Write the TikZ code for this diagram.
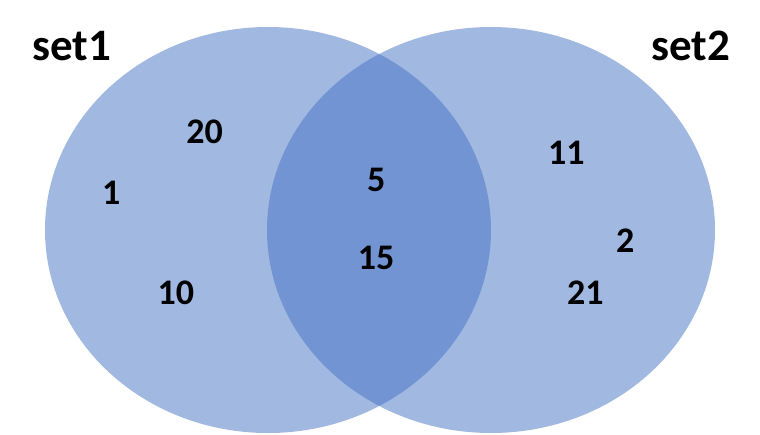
\documentclass[tikz,border=0pt]{standalone}
\usepackage{fontspec}
\setmainfont{Carlito}
\begin{document}
\begin{tikzpicture}[x=1pt,y=-1pt,
  setfill/.style={fill={rgb,255:red,68;green,114;blue,196},fill opacity=0.5,draw=none},
  num/.style={anchor=base,inner sep=0pt,font=\fontsize{36}{40}\selectfont\bfseries},
  setlabel/.style={anchor=base,inner sep=0pt,font=\fontsize{45}{50}\selectfont\bfseries}]
\useasboundingbox (0,0) rectangle (760,434);
\fill[white] (0,0) rectangle (760,434);
\path[setfill] (268,230) ellipse [x radius=223, y radius=203];
\path[setfill] (491,230) ellipse [x radius=224, y radius=203];
\node[setlabel] (s1) at (71.5,60) {set1};
\node[setlabel] (s2) at (691,60) {set2};
\node[num] (n20) at (204.7,143) {20};
\node[num] (n1) at (111.3,204) {1};
\node[num] (n10) at (175.8,304) {10};
\node[num] (n5) at (376.3,191) {5};
\node[num] (n15) at (376,269) {15};
\node[num] (n11) at (566.3,164) {11};
\node[num] (n2) at (625.3,252) {2};
\node[num] (n21) at (585.3,304) {21};
\end{tikzpicture}
\end{document}
